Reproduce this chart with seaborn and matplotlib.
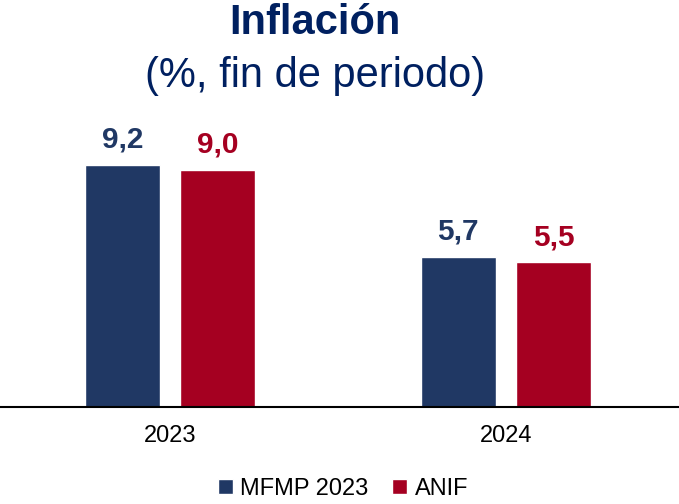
import matplotlib
matplotlib.use("Agg")
import matplotlib.pyplot as plt
import seaborn as sns
import pandas as pd
from matplotlib.patches import Patch

# data
years = ["2023", "2024"]
mfmp = [9.2, 5.7]
anif = [9.0, 5.5]
series = ["MFMP 2023", "ANIF"]
colors = ["#203864", "#A50021"]
title_color = "#002060"

df = pd.DataFrame({
    "year": years * 2,
    "value": mfmp + anif,
    "serie": [series[0]] * len(years) + [series[1]] * len(years),
})

sns.set_theme(style="white")
plt.rcParams["font.family"] = ["Liberation Sans", "DejaVu Sans"]

fig = plt.figure(figsize=(6.79, 5.04), dpi=100)
ax = fig.add_axes([0.0, 0.1925, 1.0, 0.55])

sns.barplot(data=df, x="year", y="value", hue="serie", palette=colors,
            width=0.568, gap=0.215, ax=ax, legend=False, saturation=1)

ax.set_xlim(-0.506, 1.515)
ax.set_ylim(0, 10.53)

# value labels
for cont, col in zip(ax.containers, colors):
    labels = [f"{v:.1f}".replace(".", ",") for v in cont.datavalues]
    ax.bar_label(cont, labels=labels, padding=8, fontsize=21.5,
                 fontweight="bold", color=col)

for s in ["top", "right", "left"]:
    ax.spines[s].set_visible(False)
ax.spines["bottom"].set_color("black")
ax.spines["bottom"].set_linewidth(1.5)
ax.set_yticks([])
ax.set_xlabel("")
ax.set_ylabel("")
ax.tick_params(axis="x", length=0, labelsize=17, pad=13, labelcolor="black")

fig.text(0.464, 0.955, "Inflación", ha="center", va="center",
         fontsize=30, fontweight="bold", color=title_color)
fig.text(0.464, 0.849, "(%, fin de periodo)", ha="center", va="center",
         fontsize=30, color=title_color)

handles = [Patch(facecolor=c, label=s) for s, c in zip(series, colors)]
leg = fig.legend(handles=handles, loc="center", bbox_to_anchor=(0.505, 0.03),
                 ncol=2, frameon=False, fontsize=17, handlelength=0.65,
                 handleheight=0.65, handletextpad=0.3, columnspacing=1.0)
for t in leg.get_texts():
    t.set_color("black")

fig.savefig("out.png", dpi=100)
